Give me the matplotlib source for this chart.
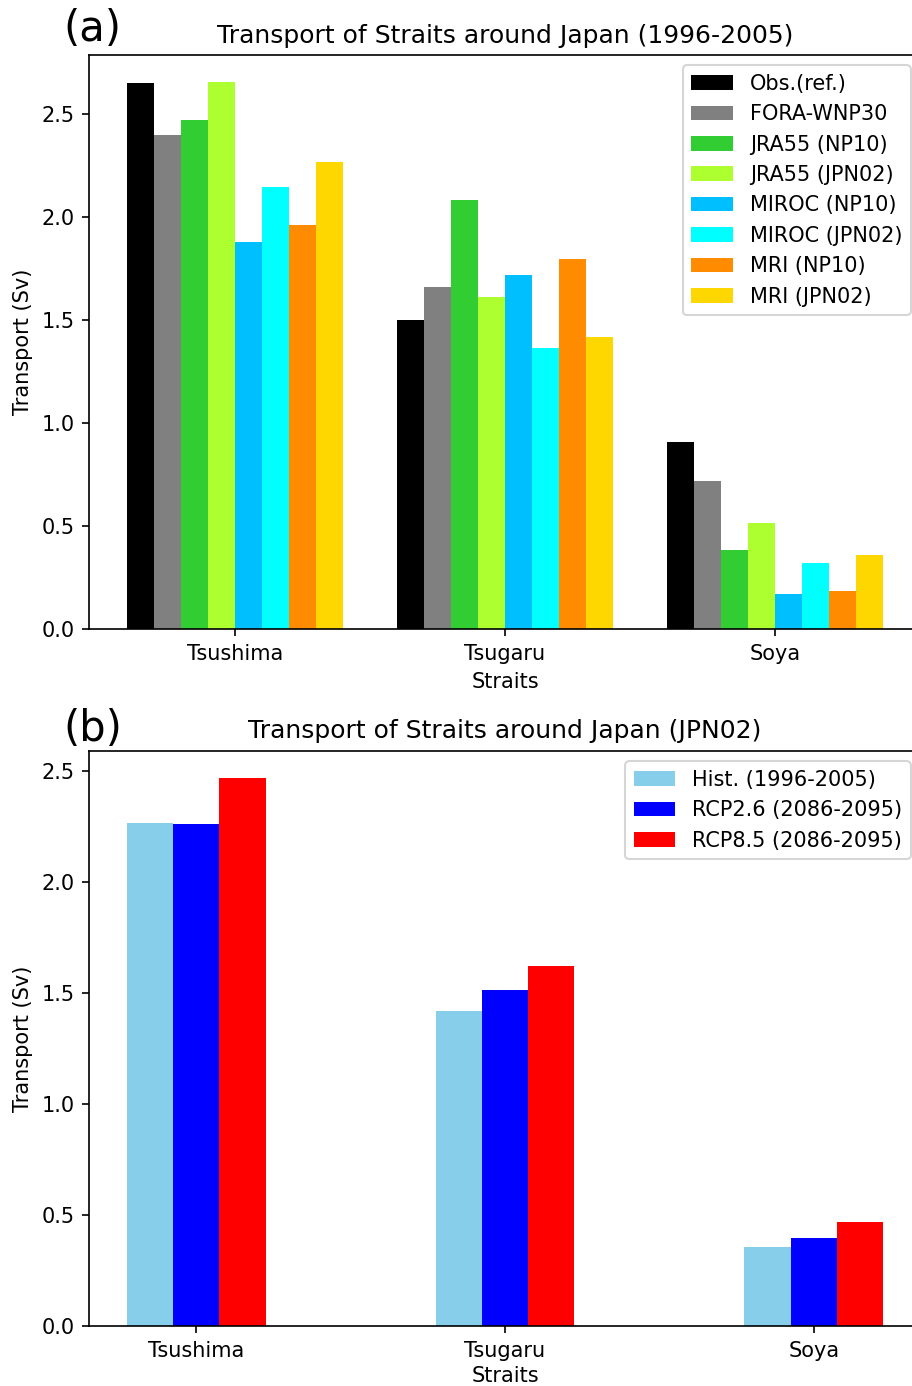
import matplotlib
matplotlib.use("Agg")
import matplotlib.pyplot as plt
import numpy as np

straits = ["Tsushima", "Tsugaru", "Soya"]

# panel (a): 1996-2005 transport (Sv)
models_a = ["Obs.(ref.)", "FORA-WNP30", "JRA55 (NP10)", "JRA55 (JPN02)",
            "MIROC (NP10)", "MIROC (JPN02)", "MRI (NP10)", "MRI (JPN02)"]
colors_a = ["black", "gray", "limegreen", "greenyellow",
            "deepskyblue", "cyan", "darkorange", "gold"]
obs = [2.65, 1.50, 0.91]
fora = [2.40, 1.66, 0.72]
jra_np10 = [2.47, 2.085, 0.385]
jra_jpn02 = [2.655, 1.61, 0.516]
miroc_np10 = [1.88, 1.72, 0.168]
miroc_jpn02 = [2.145, 1.365, 0.322]
mri_np10 = [1.96, 1.797, 0.183]
mri_jpn02 = [2.266, 1.419, 0.358]
series_a = [obs, fora, jra_np10, jra_jpn02, miroc_np10, miroc_jpn02, mri_np10, mri_jpn02]

# panel (b): JPN02 future scenarios
scen_b = ["Hist. (1996-2005)", "RCP2.6 (2086-2095)", "RCP8.5 (2086-2095)"]
colors_b = ["skyblue", "blue", "red"]
hist = [2.267, 1.422, 0.356]
rcp26 = [2.264, 1.516, 0.398]
rcp85 = [2.469, 1.625, 0.468]
series_b = [hist, rcp26, rcp85]

fig = plt.figure(figsize=(6.08, 9.24), dpi=150)
ax1 = fig.add_axes([0.0976, 0.5462, 0.9123, 0.4141])
ax2 = fig.add_axes([0.0976, 0.0433, 0.9123, 0.4149])

x = np.arange(len(straits))

w = 0.1
for i, (vals, lab, c) in enumerate(zip(series_a, models_a, colors_a)):
    ax1.bar(x + (i - 3.5) * w, vals, w, color=c, label=lab)
ax1.set_xticks(x)
ax1.set_xticklabels(straits)
ax1.set_xlabel("Straits")
ax1.set_ylabel("Transport (Sv)")
ax1.set_title("Transport of Straits around Japan (1996-2005)")
ax1.legend(loc="upper right")

w = 0.15
for i, (vals, lab, c) in enumerate(zip(series_b, scen_b, colors_b)):
    ax2.bar(x + (i - 1) * w, vals, w, color=c, label=lab)
ax2.set_xticks(x)
ax2.set_xticklabels(straits)
ax2.set_xlabel("Straits", labelpad=2.5)
ax2.set_ylabel("Transport (Sv)")
ax2.set_title("Transport of Straits around Japan (JPN02)")
ax2.legend(loc="upper right")

fig.text(0.069, 1 - 29 / 1386, "(a)", fontsize=20, va="center")
fig.text(0.069, 1 - 729 / 1386, "(b)", fontsize=20, va="center")

fig.savefig("out.png", dpi=150)
